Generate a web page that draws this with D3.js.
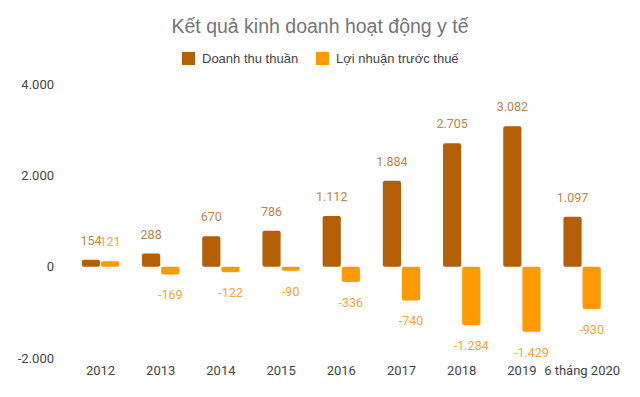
<!DOCTYPE html>
<html>
<head>
<meta charset="utf-8">
<script src="https://cdn.jsdelivr.net/npm/d3@7"></script>
<style>
  body { margin: 0; background: #fff; }
  svg { display: block; }
</style>
</head>
<body>
<div id="chart"></div>
<script>
// chart data
var categories = ["2012","2013","2014","2015","2016","2017","2018","2019","6 tháng 2020"];
var revenue = [154, 288, 670, 786, 1112, 1884, 2705, 3082, 1097];
var profit = [121, -169, -122, -90, -336, -740, -1284, -1429, -930];
var seriesNames = ["Doanh thu thuần", "Lợi nhuận trước thuế"];
var yTicks = [-2000, 0, 2000, 4000];

var w = 640, h = 397;
var barColors = ["#b45f06", "#ff9900"];
var labelColors = ["#bd844a", "#f2a53a"];

// vietnamese number format: 1.234 and a plain hyphen for negatives
var vn = d3.formatLocale({decimal: ",", thousands: ".", grouping: [3], currency: ["", ""], minus: "-"});
var fmt = vn.format(",d");

var svg = d3.select("#chart")
            .append("svg")
            .attr("width", w)
            .attr("height", h);

// title
svg.append("text")
   .attr("x", 320)
   .attr("y", 33)
   .attr("text-anchor", "middle")
   .attr("font-family", "Liberation Sans, Arial, sans-serif")
   .attr("font-size", 19.5)
   .attr("fill", "#757575")
   .text("Kết quả kinh doanh hoạt động y tế");

// legend
var legendX = [182, 316];
seriesNames.forEach(function(name, i){
    svg.append("rect")
       .attr("x", legendX[i])
       .attr("y", 52)
       .attr("width", 13)
       .attr("height", 13)
       .attr("fill", barColors[i]);
    svg.append("text")
       .attr("x", legendX[i] + 20)
       .attr("y", 63)
       .attr("font-family", "Liberation Sans, Arial, sans-serif")
       .attr("font-size", 13)
       .attr("fill", "#444")
       .text(name);
});

// scales
var xScale = d3.scaleBand()
               .domain(categories)
               .range([70.4, 612.2])
               .paddingInner(0.38)
               .paddingOuter(0.19);

var xInner = d3.scaleBand()
               .domain([0, 1])
               .range([0, xScale.bandwidth()])
               .paddingInner(0.05);

var yScale = d3.scaleLinear()
               .domain([-2000, 4000])
               .range([357.9, 84.3]);

// y axis labels
var yAxis = d3.axisLeft(yScale)
              .tickValues(yTicks)
              .tickSize(0)
              .tickPadding(0)
              .tickFormat(fmt);

var gy = svg.append("g")
            .attr("transform", "translate(54,0)")
            .call(yAxis);
gy.select(".domain").remove();
gy.selectAll("text")
  .attr("font-family", "Roboto, sans-serif")
  .attr("font-size", 13)
  .attr("fill", "#444");

// x axis labels
var xAxis = d3.axisBottom(xScale)
              .tickSize(0)
              .tickPadding(0);

var gx = svg.append("g")
            .attr("transform", "translate(0,366)")
            .call(xAxis);
gx.select(".domain").remove();
gx.selectAll("text")
  .attr("font-family", "Roboto, sans-serif")
  .attr("font-size", 13)
  .attr("fill", "#444");

// bars
var seriesData = [revenue, profit];
seriesData.forEach(function(values, s){
    var g = svg.append("g");

    g.selectAll("rect")
     .data(values)
     .enter()
     .append("rect")
     .attr("x", function(d, i){ return xScale(categories[i]) + xInner(s); })
     .attr("y", function(d){ return yScale(Math.max(0, d)); })
     .attr("width", xInner.bandwidth())
     .attr("height", function(d){ return Math.abs(yScale(d) - yScale(0)); })
     .attr("rx", 2)
     .attr("fill", barColors[s]);

    g.selectAll("text")
     .data(values)
     .enter()
     .append("text")
     .text(function(d){ return fmt(d); })
     .attr("text-anchor", "middle")
     .attr("font-family", "Roboto, sans-serif")
     .attr("font-size", 12.5)
     .attr("fill", labelColors[s])
     .attr("x", function(d, i){ return xScale(categories[i]) + xInner(s) + xInner.bandwidth() / 2; })
     .attr("y", function(d){ return d >= 0 ? yScale(d) - 15 : yScale(d) + 25; });
});
</script>
</body>
</html>
